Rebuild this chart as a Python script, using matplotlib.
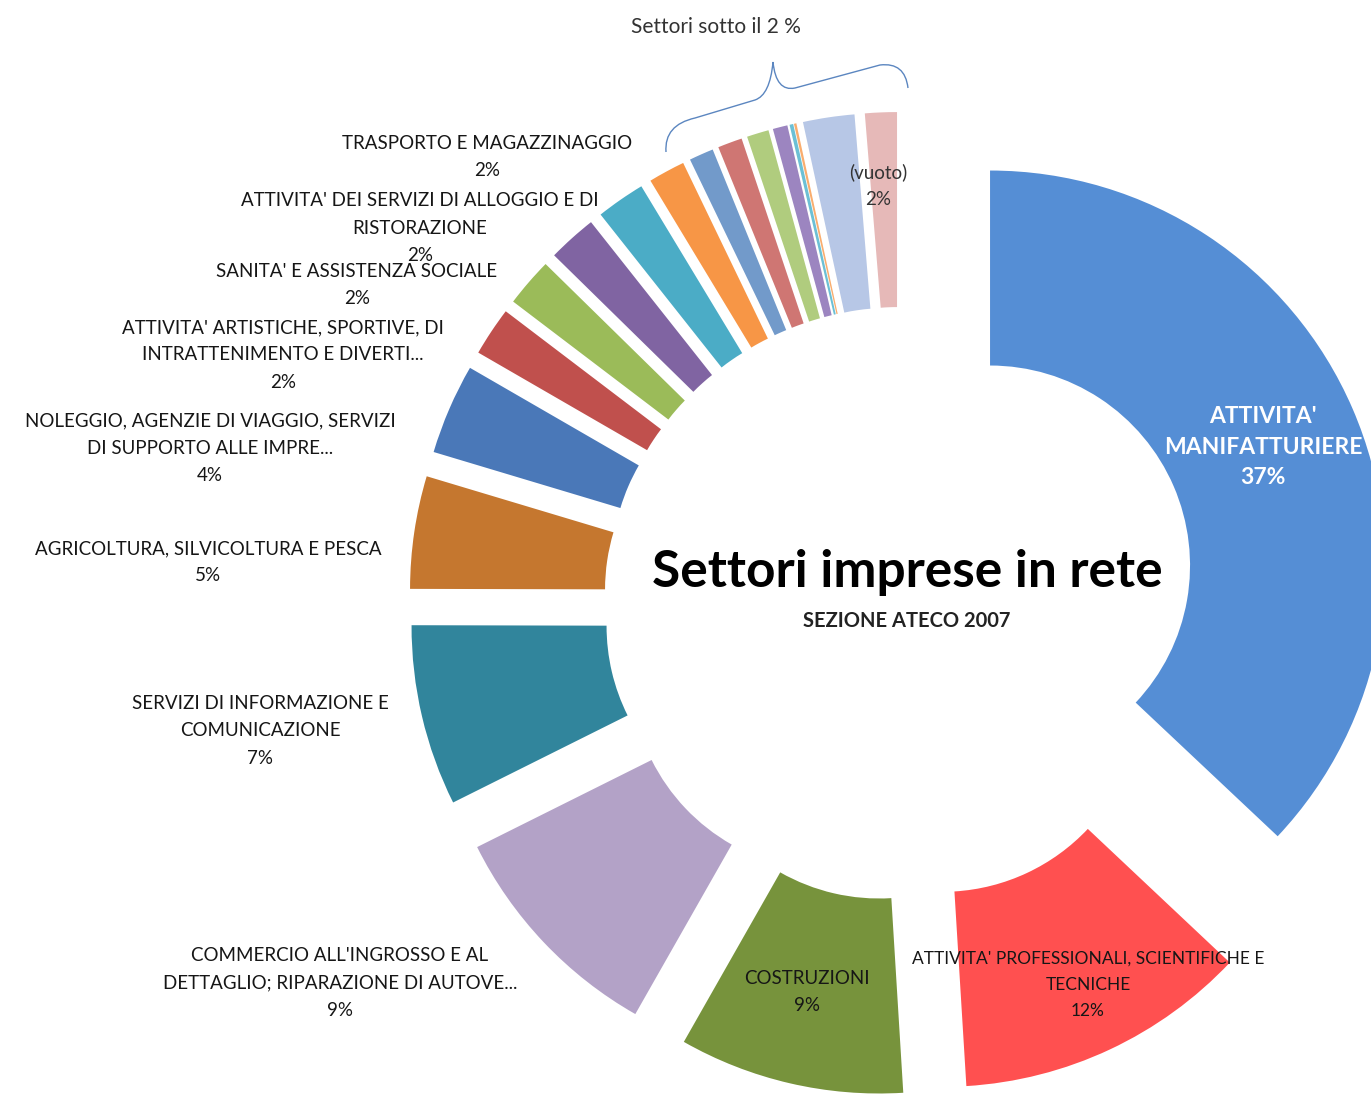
import matplotlib
matplotlib.use("Agg")
import matplotlib.pyplot as plt
from matplotlib.path import Path
from matplotlib.patches import PathPatch

# settori ATECO 2007 (quote in %), in ordine orario dall'alto
settori = [
    "ATTIVITA' MANIFATTURIERE",
    "ATTIVITA' PROFESSIONALI, SCIENTIFICHE E TECNICHE",
    "COSTRUZIONI",
    "COMMERCIO ALL'INGROSSO E AL DETTAGLIO",
    "SERVIZI DI INFORMAZIONE E COMUNICAZIONE",
    "AGRICOLTURA, SILVICOLTURA E PESCA",
    "NOLEGGIO, AGENZIE DI VIAGGIO",
    "ATTIVITA' ARTISTICHE, SPORTIVE",
    "SANITA' E ASSISTENZA SOCIALE",
    "ALLOGGIO E RISTORAZIONE",
    "TRASPORTO E MAGAZZINAGGIO",
    "altro 1", "altro 2", "altro 3", "altro 4", "altro 5",
    "altro 6", "altro 7", "altro 8",
    "(vuoto)",
]
quote = [37.0, 12.0, 9.2, 9.4, 7.4, 4.6, 3.7, 2.0, 2.0, 2.0, 2.0,
         1.5, 1.0, 1.0, 0.9, 0.6, 0.15, 0.1, 2.1, 1.3]
colori = ["#558ed5", "#ff5050", "#77933c", "#b3a2c7", "#31859c",
          "#c5772f", "#4a78b8", "#c0504d", "#9bbb59", "#8064a2",
          "#4bacc6", "#f79646", "#729aca", "#cf7673", "#b0cc7e",
          "#9c85c0", "#6cc0d5", "#f9ad6e", "#b7c7e6", "#e6b9b8"]

W, H = 1371, 1097
fig = plt.figure(figsize=(W / 100, H / 100), dpi=100)
ax = fig.add_axes([0, 0, 1, 1])

ax.pie(quote, colors=colori, startangle=90, counterclock=False,
       radius=395, center=(901, H - 604), explode=[97] * len(quote),
       wedgeprops=dict(width=195, linewidth=0))
ax.set_xlim(0, W)
ax.set_ylim(0, H)
ax.set_aspect("equal")
ax.axis("off")

lab_font = ["Lato", "DejaVu Sans"]
col_txt = "#161616"

def etichetta(x, y, s, size=13.5, color=col_txt, weight="normal", fam=None, ls=1.72):
    ax.text(x, H - y, s, ha="center", va="center", fontsize=size, color=color,
            weight=weight, family=fam or lab_font, linespacing=ls)

# etichette esterne
etichetta(487, 157, "TRASPORTO E MAGAZZINAGGIO\n2%")
etichetta(420, 228, "ATTIVITA' DEI SERVIZI DI ALLOGGIO E DI\nRISTORAZIONE\n2%")
etichetta(357, 285, "SANITA' E ASSISTENZA SOCIALE\n2%")
etichetta(283, 355, "ATTIVITA' ARTISTICHE, SPORTIVE, DI\nINTRATTENIMENTO E DIVERTI...\n2%")
etichetta(210, 448, "NOLEGGIO, AGENZIE DI VIAGGIO, SERVIZI\nDI SUPPORTO ALLE IMPRE...\n4%")
etichetta(208, 562, "AGRICOLTURA, SILVICOLTURA E PESCA\n5%")
etichetta(260, 731, "SERVIZI DI INFORMAZIONE E\nCOMUNICAZIONE\n7%")
etichetta(340, 983, "COMMERCIO ALL'INGROSSO E AL\nDETTAGLIO; RIPARAZIONE DI AUTOVE...\n9%")
etichetta(807, 992, "COSTRUZIONI\n9%")
etichetta(1088, 985, "ATTIVITA' PROFESSIONALI, SCIENTIFICHE E\nTECNICHE\n12%", size=12.5, ls=1.8)
etichetta(878, 186, "(vuoto)\n2%", color="#333333")
etichetta(1263, 447, "ATTIVITA'\nMANIFATTURIERE\n37%", size=16.5, color="white",
          weight="bold", fam=["Lato", "DejaVu Sans"], ls=1.55)

# titolo al centro
ax.text(907, H - 573, "Settori imprese in rete", ha="center", va="center",
        fontsize=37, family=["Lato", "DejaVu Sans"], weight="bold", color="black")
ax.text(907, H - 621, "SEZIONE ATECO 2007", ha="center", va="center",
        fontsize=14.5, family=["Lato", "DejaVu Sans"], weight="bold", color="#222222")

# graffa sopra i settori sotto il 2%
pts = [(666, 152), (664, 125), (695, 118), (755, 100), (770, 95), (773, 62),
       (776, 92), (795, 88), (880, 65), (905, 62), (908, 88)]
codes = [Path.MOVETO, Path.CURVE3, Path.CURVE3, Path.LINETO, Path.CURVE3,
         Path.CURVE3, Path.CURVE3, Path.CURVE3, Path.LINETO, Path.CURVE3, Path.CURVE3]
brace = Path([(x, H - y) for x, y in pts], codes)
ax.add_patch(PathPatch(brace, fill=False, edgecolor="#5b86c0", lw=1.0))
etichetta(716, 27, "Settori sotto il 2 %", size=15, color="#333333")

fig.savefig("out.png", dpi=100, facecolor="white")
